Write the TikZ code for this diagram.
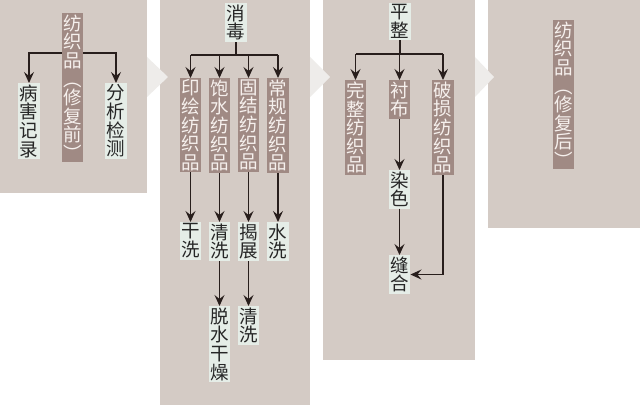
\documentclass[tikz,border=0pt]{standalone}
\usepackage{fontspec}
\setmainfont{Noto Sans CJK SC}
\usetikzlibrary{arrows.meta,calc}
\definecolor{panelgray}{RGB}{212,203,197}
\definecolor{chevgray}{RGB}{238,236,234}
\definecolor{mauvebox}{RGB}{160,138,132}
\definecolor{paletext}{RGB}{246,240,237}
\definecolor{mintbox}{RGB}{229,237,231}
\definecolor{inkline}{RGB}{40,30,28}

\begin{document}
\begin{tikzpicture}[x=1pt, y=-1pt,
    vtext/.style={anchor=north, text width=18.5pt, align=center, inner xsep=1.5pt, inner ysep=1.5pt,
                  font=\fontsize{18.5}{18.6}\selectfont},
    darkbox/.style={vtext, fill=mauvebox, text=paletext},
    lightbox/.style={vtext, fill=mintbox, text=black!85},
    link/.style={draw=inkline, line width=1.2pt},
    arr/.style={link, -{Stealth[length=11pt,width=10pt,inset=4pt]}}]
    % Canvas
    \fill[white] (0,0) rectangle (640,406);
    \useasboundingbox (0,0) rectangle (640,406);

    % Panels
    \foreach \xa/\xb/\yb in {0/147/193, 160/310/405, 323/475/360, 488/640/228}
        \fill[panelgray] (\xa,0) rectangle (\xb,\yb);

    % Chevrons between panels
    \foreach \xa/\xt in {147/168, 310/330, 475/494}
        \fill[chevgray] (\xa,57) -- (\xt,77) -- (\xa,97) -- cycle;

    % Panel 1: before restoration
    \node[darkbox] (m1) at (72.5,13) {纺\\织\\品\\︵\\修\\复\\前\\︶};
    \node[lightbox] (bh) at (29,83) {病\\害\\记\\录};
    \node[lightbox] (fx) at (116,83) {分\\析\\检\\测};
    \draw[arr] (m1.west |- 0,53) -| (bh.north);
    \draw[arr] (m1.east |- 0,53) -| (fx.north);

    % Panel 2: disinfection
    \node[lightbox] (xd) at (236,3) {消\\毒};
    \coordinate (j2) at (xd.south |- 0,55);
    \foreach \i/\x/\kind/\step in {
        1/190.5/{印\\绘}/{干\\洗},
        2/219.5/{饱\\水}/{清\\洗},
        3/248.5/{固\\结}/{揭\\展},
        4/278/{常\\规}/{水\\洗}%
    } {
        \node[darkbox] (a\i) at (\x,78) {\kind\\纺\\织\\品};
        \node[lightbox] (b\i) at (\x,222) {\step};
        \draw[arr] (j2 -| a\i) -- (a\i.north);
        \draw[arr] (a\i.south) -- (b\i.north);
    }
    \draw[link] (xd.south) -- (j2);
    \draw[link] (j2 -| a1) -- (j2 -| a4);
    \node[lightbox] (c2) at (219.5,306) {脱\\水\\干\\燥};
    \node[lightbox] (c3) at (248.5,306) {清\\洗};
    \draw[arr] (b2.south) -- (c2.north);
    \draw[arr] (b3.south) -- (c3.north);

    % Panel 3: flattening
    \node[lightbox] (pz) at (400,3) {平\\整};
    \coordinate (j3) at (pz.south |- 0,54);
    \node[darkbox] (wz) at (355.5,80) {完\\整\\纺\\织\\品};
    \node[darkbox] (cb) at (399.5,80) {衬\\布};
    \node[darkbox] (ps) at (443,80) {破\\损\\纺\\织\\品};
    \draw[link] (pz.south) -- (j3);
    \draw[link] (j3 -| wz) -- (j3 -| ps);
    \foreach \n in {wz,cb,ps}
        \draw[arr] (j3 -| \n) -- (\n.north);
    \node[lightbox] (rs) at (399.5,170) {染\\色};
    \node[lightbox] (fh) at (399.5,255) {缝\\合};
    \draw[arr] (cb.south) -- (rs.north);
    \draw[arr] (rs.south) -- (fh.north);
    \draw[arr] (ps.south) |- (fh.east);

    % Panel 4: after restoration
    \node[darkbox] (m2) at (563.5,20) {纺\\织\\品\\︵\\修\\复\\后\\︶};
\end{tikzpicture}
\end{document}
